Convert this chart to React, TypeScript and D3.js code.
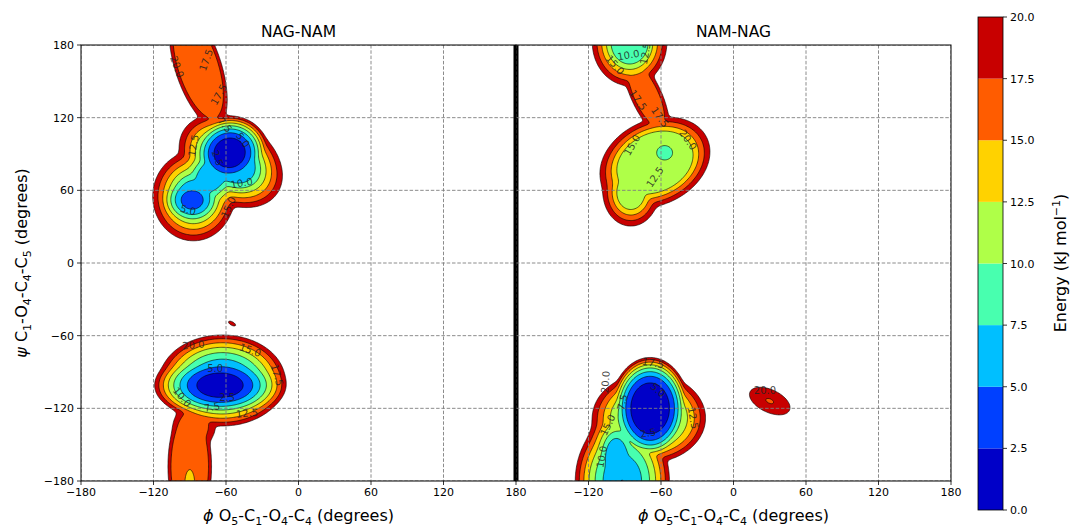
import React, { useMemo } from 'react';
import * as d3 from 'd3';

// [phi, psi, e0, rx, ry, angleDeg, power, wallSlope]
// wallSlope 0: bowl well e0 + 20*d^power; wallSlope > 0: flat plateau inside the ellipse, linear wall outside
type Well = [number, number, number, number, number, number, number, number];
// [phi, psi, text, rotation]
type Lab = [number, number, string, number];

const levels = [2.5, 5, 7.5, 10, 12.5, 15, 17.5, 20];
const bandColors = ['#0000c8', '#0040ff', '#00bfff', '#48ffaf', '#afff48', '#ffd200', '#ff5c00', '#c80000'];
const angleTicks = [-180, -120, -60, 0, 60, 120, 180];
const cbTicks = [0, 2.5, 5, 7.5, 10, 12.5, 15, 17.5, 20];
const titles = ['NAG-NAM', 'NAM-NAG'];

const nagNamWells: Well[] = [
  [-57, 91, 0, 32, 30, 15, 2.3, 0],
  [-88, 52, 3.3, 30, 25, 0, 2, 0],
  [-56, 84, 7, 21, 15, -35, 1, 0.6],
  [-87, 55, 7, 11, 12, 0, 1, 0.55],
  [-72, 72, 7, 14, 10, 50, 1, 0.55],
  [-83, 162, 16, 15, 40, 18, 1, 0.6],
  [-90, -168, 16, 14, 38, 0, 1, 0.6],
  [-90, -183, 14.6, 20, 60, 0, 2, 0],
  [-65, -101, 0, 54, 28, 0, 2, 0],
  [-63, -97, 4, 58, 42, 0, 2, 0],
  [-86, -135, 15.5, 36, 36, 0, 2, 0],
  [-55, -50, 18.8, 14, 6, -30, 2, 0],
];

const namNagWells: Well[] = [
  [-65, 83, 11, 30, 22, 25, 1, 0.6],
  [-85, 58, 11.5, 10, 12, 0, 1, 0.6],
  [-57, 91, 8.3, 20, 18, 0, 2, 0],
  [-86, 182, 8.5, 13, 15, 0, 1, 0.6],
  [-72, 138, 16.5, 9, 25, 25, 1, 0.6],
  [-69, -120, 0, 32, 42, 0, 3, 0],
  [-70, -128, 6, 56, 44, 0, 2, 0],
  [-92, -180, 5, 45, 60, 0, 2, 0],
  [-97, -160, 7, 8, 14, 0, 1, 0.6],
  [30, -114, 17.4, 50, 26, -25, 2, 0],
];

const nagNamLabels: Lab[] = [
  [-100.5, 162, '20.0', 70],
  [-76.5, 167.6, '17.5', -70],
  [-66, 139, '17.5', -60],
  [-87, 97, '12.5', -80],
  [-61, 114, '7.5', 50],
  [-46, 101.5, '5.0', 55],
  [-67, 86.7, '2.5', 70],
  [-47, 66, '10.0', -10],
  [-58, 46, '15.0', -65],
  [-91.4, 43.7, '5.0', 15],
  [-87, -67.7, '20.0', -5],
  [-40, -72, '15.0', 20],
  [-17.7, -92.5, '17.5', 75],
  [-69, -86.7, '5.0', 0],
  [-59, -111, '2.5', 0],
  [-71.6, -119, '7.5', -10],
  [-42.6, -124, '12.5', -5],
  [-96.4, -110.7, '10.0', 50],
];

const namNagLabels: Lab[] = [
  [-87, 171.7, '10.0', -10],
  [-73, 173, '12.5', -80],
  [-98, 163.5, '15.0', 50],
  [-79, 134.6, '17.5', 55],
  [-61, 120.5, '17.5', 55],
  [-37.6, 101.6, '20.0', 55],
  [-84, 97.4, '15.0', -60],
  [-65, 71, '12.5', -55],
  [-66.6, -82.6, '17.5', 10],
  [-106, -98.3, '20.0', -85],
  [-62.5, -104.9, '5.0', 40],
  [-92, -114.8, '7.5', -75],
  [-33.5, -128, '12.5', 80],
  [-70.7, -140.4, '2.5', -10],
  [-104, -133.8, '15.0', -65],
  [-109, -160, '10.0', -80],
  [26, -105, '20.0', 0],
];

const N = 360;
const PW = 435;
const PH = 436;
const TOP = 45;
const LEFTS = [81, 516];

function energyGrid(wells: Well[]) {
  const vals = new Float64Array(N * N);
  const c = 1.0;
  const pre = wells.map(([p0, s0, e0, rx, ry, ang, pw, g]) => ({
    p0, s0, e0, rx, ry, pw, g,
    rm: Math.sqrt(rx * ry),
    cs: Math.cos((ang * Math.PI) / 180),
    sn: Math.sin((ang * Math.PI) / 180),
  }));
  const es = new Float64Array(pre.length);
  for (let j = 0; j < N; j++) {
    const psi = 180 - (j + 0.5) * (360 / N);
    for (let i = 0; i < N; i++) {
      const phi = -180 + (i + 0.5) * (360 / N);
      let mn = Infinity;
      for (let k = 0; k < pre.length; k++) {
        const w = pre[k];
        const dx = phi - w.p0;
        const dy = psi - w.s0;
        const u = dx * w.cs + dy * w.sn;
        const v = -dx * w.sn + dy * w.cs;
        const d2 = (u / w.rx) ** 2 + (v / w.ry) ** 2;
        let e: number;
        if (w.g > 0) {
          e = w.e0 + w.g * Math.max(0, Math.sqrt(d2) - 1) * w.rm;
        } else {
          e = w.e0 + 20 * Math.pow(d2, w.pw / 2);
        }
        e = Math.min(60, e);
        es[k] = e;
        if (e < mn) mn = e;
      }
      let s = 0;
      for (let k = 0; k < pre.length; k++) s += Math.exp(-(es[k] - mn) / c);
      vals[j * N + i] = -(mn - c * Math.log(s));
    }
  }
  return vals;
}

const FONT = 'DejaVu Sans, sans-serif';
const minus = (v: number) => (v < 0 ? '\u2212' + Math.abs(v) : String(v));

function Panel({ idx, wells, labels }: { idx: number; wells: Well[]; labels: Lab[] }) {
  const x0 = LEFTS[idx];
  const xs = d3.scaleLinear().domain([-180, 180]).range([x0, x0 + PW]);
  const ys = d3.scaleLinear().domain([-180, 180]).range([TOP + PH, TOP]);
  const paths = useMemo(() => {
    const vals = energyGrid(wells);
    const gen = d3.contours().size([N, N]).thresholds(levels.map((l) => -l).reverse());
    const cs = gen(Array.from(vals));
    const proj = d3.geoTransform({
      point: function (x: number, y: number) {
        (this as any).stream.point(xs(-180 + x * (360 / N)), ys(180 - y * (360 / N)));
      },
    });
    const gp = d3.geoPath(proj);
    return cs.map((c) => ({ level: -c.value, d: gp(c as any) || '' }));
  }, [idx]);
  const clipId = 'clip' + idx;
  return (
    <g>
      <defs>
        <clipPath id={clipId}>
          <rect x={x0} y={TOP} width={PW} height={PH} />
        </clipPath>
      </defs>
      <g clipPath={`url(#${clipId})`}>
        {paths.map((p, i) => {
          const bi = levels.indexOf(p.level);
          return <path key={i} d={p.d} fill={bandColors[bi]} stroke="#000" strokeWidth={0.6} />;
        })}
        {angleTicks.map((t) => (
          <line key={'gx' + t} x1={xs(t)} x2={xs(t)} y1={TOP} y2={TOP + PH} stroke="#7f7f7f" strokeWidth={0.9} strokeDasharray="3.5,1.8" />
        ))}
        {angleTicks.map((t) => (
          <line key={'gy' + t} x1={x0} x2={x0 + PW} y1={ys(t)} y2={ys(t)} stroke="#7f7f7f" strokeWidth={0.9} strokeDasharray="3.5,1.8" />
        ))}
        {labels.map(([ph, ps, txt, rot], i) => (
          <text
            key={'l' + i}
            x={xs(ph)}
            y={ys(ps)}
            transform={`rotate(${rot},${xs(ph)},${ys(ps)})`}
            textAnchor="middle"
            dominantBaseline="central"
            fontFamily={FONT}
            fontSize={10}
            fill="#222"
            fillOpacity={0.85}
          >
            {txt}
          </text>
        ))}
      </g>
      <rect x={x0} y={TOP} width={PW} height={PH} fill="none" stroke="#000" strokeWidth={1} />
      {angleTicks.map((t) =>
        idx === 1 && t === -180 ? null : (
          <g key={'xt' + t}>
            <line x1={xs(t)} x2={xs(t)} y1={TOP + PH} y2={TOP + PH + 4} stroke="#000" strokeWidth={0.8} />
            <text x={xs(t)} y={TOP + PH + 15} textAnchor="middle" fontFamily={FONT} fontSize={11} fill="#000">
              {minus(t)}
            </text>
          </g>
        )
      )}
      {idx === 0 &&
        angleTicks.map((t) => (
          <g key={'yt' + t}>
            <line x1={x0 - 4} x2={x0} y1={ys(t)} y2={ys(t)} stroke="#000" strokeWidth={0.8} />
            <text x={x0 - 7} y={ys(t) + 4} textAnchor="end" fontFamily={FONT} fontSize={11} fill="#000">
              {minus(t)}
            </text>
          </g>
        ))}
      {idx === 0 && <line x1={xs(180)} x2={xs(180)} y1={TOP} y2={TOP + PH} stroke="#000" strokeWidth={5} />}
      <text x={x0 + PW / 2} y={37} textAnchor="middle" fontFamily={FONT} fontSize={15.5} fill="#000">
        {titles[idx]}
      </text>
      <text x={x0 + PW / 2} y={521} textAnchor="middle" fontFamily={FONT} fontSize={16} fill="#000">
        <tspan fontStyle="italic">ϕ</tspan>
        <tspan> O</tspan>
        <tspan fontSize={11} dy={4}>5</tspan>
        <tspan dy={-4}>-C</tspan>
        <tspan fontSize={11} dy={4}>1</tspan>
        <tspan dy={-4}>-O</tspan>
        <tspan fontSize={11} dy={4}>4</tspan>
        <tspan dy={-4}>-C</tspan>
        <tspan fontSize={11} dy={4}>4</tspan>
        <tspan dy={-4}> (degrees)</tspan>
      </text>
    </g>
  );
}

function Colorbar() {
  const cx = 978;
  const cw = 25;
  const cs = d3.scaleLinear().domain([0, 20]).range([510, 17]);
  const bounds = [0, ...levels];
  return (
    <g>
      {bandColors.map((col, i) => (
        <rect key={i} x={cx} y={cs(bounds[i + 1])} width={cw} height={cs(bounds[i]) - cs(bounds[i + 1])} fill={col} />
      ))}
      <rect x={cx} y={17} width={cw} height={493} fill="none" stroke="#000" strokeWidth={0.8} />
      {cbTicks.map((t) => (
        <g key={t}>
          <line x1={cx + cw} x2={cx + cw + 4} y1={cs(t)} y2={cs(t)} stroke="#000" strokeWidth={0.8} />
          <text x={cx + cw + 7} y={cs(t) + 4} fontFamily={FONT} fontSize={11} fill="#000">
            {t.toFixed(1)}
          </text>
        </g>
      ))}
      <text transform="translate(1066,263) rotate(-90)" textAnchor="middle" fontFamily={FONT} fontSize={16} fill="#000">
        <tspan>Energy (kJ mol</tspan>
        <tspan fontSize={11} dy={-6}>−1</tspan>
        <tspan dy={6}>)</tspan>
      </text>
    </g>
  );
}

export default function App() {
  return (
    <svg width={1070} height={527} style={{ position: 'absolute', left: 0, top: 0, background: '#fff' }}>
      <rect width={1070} height={527} fill="#fff" />
      <Panel idx={0} wells={nagNamWells} labels={nagNamLabels} />
      <Panel idx={1} wells={namNagWells} labels={namNagLabels} />
      <Colorbar />
      <text transform="translate(27,263) rotate(-90)" textAnchor="middle" fontFamily={FONT} fontSize={16} fill="#000">
        <tspan fontStyle="italic">ψ</tspan>
        <tspan> C</tspan>
        <tspan fontSize={11} dy={4}>1</tspan>
        <tspan dy={-4}>-O</tspan>
        <tspan fontSize={11} dy={4}>4</tspan>
        <tspan dy={-4}>-C</tspan>
        <tspan fontSize={11} dy={4}>4</tspan>
        <tspan dy={-4}>-C</tspan>
        <tspan fontSize={11} dy={4}>5</tspan>
        <tspan dy={-4}> (degrees)</tspan>
      </text>
    </svg>
  );
}
